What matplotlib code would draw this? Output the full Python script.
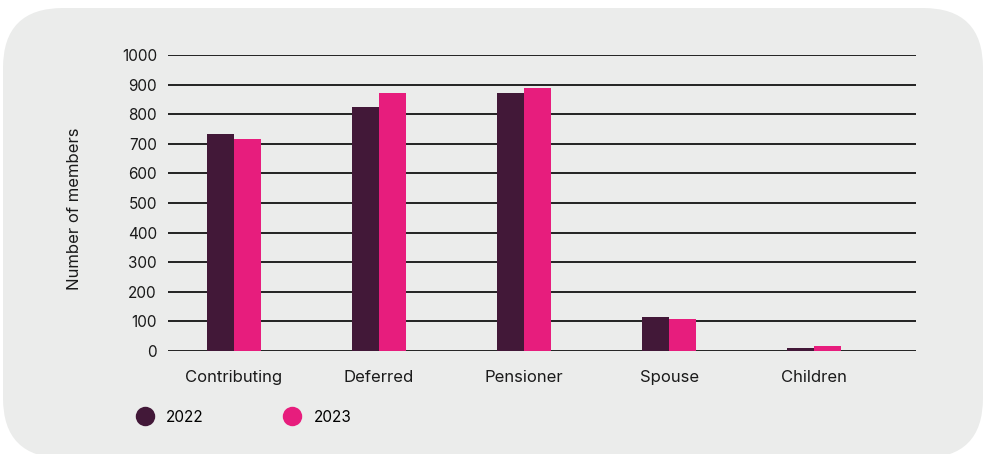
import matplotlib
matplotlib.use("Agg")
import matplotlib.pyplot as plt
import numpy as np
from matplotlib.patches import FancyBboxPatch
from matplotlib.lines import Line2D

categories = ["Contributing", "Deferred", "Pensioner", "Spouse", "Children"]
series_names = ["2022", "2023"]
values_2022 = [733, 824, 873, 115, 10]
values_2023 = [716, 873, 888, 108, 17]
yticks = [0, 100, 200, 300, 400, 500, 600, 700, 800, 900, 1000]

c2022 = "#421838"
c2023 = "#E71D7D"
bg = "#EBECEB"

plt.rcParams['font.family'] = ['Inter', 'DejaVu Sans']

W, H = 9.87, 4.54
fig = plt.figure(figsize=(W, H), dpi=100)
fig.patch.set_facecolor("white")

# rounded background panel (in inches)
R = 0.6
box = FancyBboxPatch((0.03 + R, (454 - 458) / 100 + R), (980 / 100) - 2 * R, (450 / 100) - 2 * R,
                     boxstyle=f"round,pad={R}", transform=fig.dpi_scale_trans,
                     facecolor=bg, edgecolor="none", zorder=-10)
fig.patches.append(box)

ax = fig.add_axes([168 / 987, 103 / 454, (916 - 168) / 987, (351 - 55) / 454])
ax.set_facecolor("none")
ax.set_zorder(5)

x = np.arange(len(categories))
w = 0.186
ax.bar(x - w / 2, values_2022, width=w, color=c2022, zorder=3)
ax.bar(x + w / 2, values_2023, width=w, color=c2023, zorder=3)

ax.set_xlim(-0.455, 4.70)
ax.set_ylim(0, 1000)
ax.set_yticks(yticks)
ax.set_yticklabels([str(t) for t in yticks], fontsize=11, color="#1a1a1a")
ax.set_xticks(x)
ax.set_xticklabels(categories, fontsize=12, color="#1a1a1a")
ax.tick_params(axis="y", length=0, pad=8)
ax.tick_params(axis="x", length=0, pad=14)
ax.yaxis.grid(True, color="black", linewidth=1.2, zorder=1)
ax.set_axisbelow(True)
for s in ax.spines.values():
    s.set_visible(False)

fig.text(75 / 987, 1 - 209 / 454, "Number of members", rotation=90, ha="center", va="center",
         fontsize=12, color="#1a1a1a")

# legend
handles = [Line2D([0], [0], marker="o", linestyle="none", markersize=14, markerfacecolor=c,
                  markeredgecolor="none") for c in (c2022, c2023)]
leg = fig.legend(handles, series_names, loc="center left", bbox_to_anchor=(137 / 987, 1 - 417 / 454),
                 ncol=2, frameon=False, fontsize=11, handletextpad=0.9, columnspacing=5.3,
                 handlelength=1.0, borderaxespad=0, borderpad=0)
leg.set_zorder(6)

fig.savefig("out.png", dpi=100, facecolor="white")
